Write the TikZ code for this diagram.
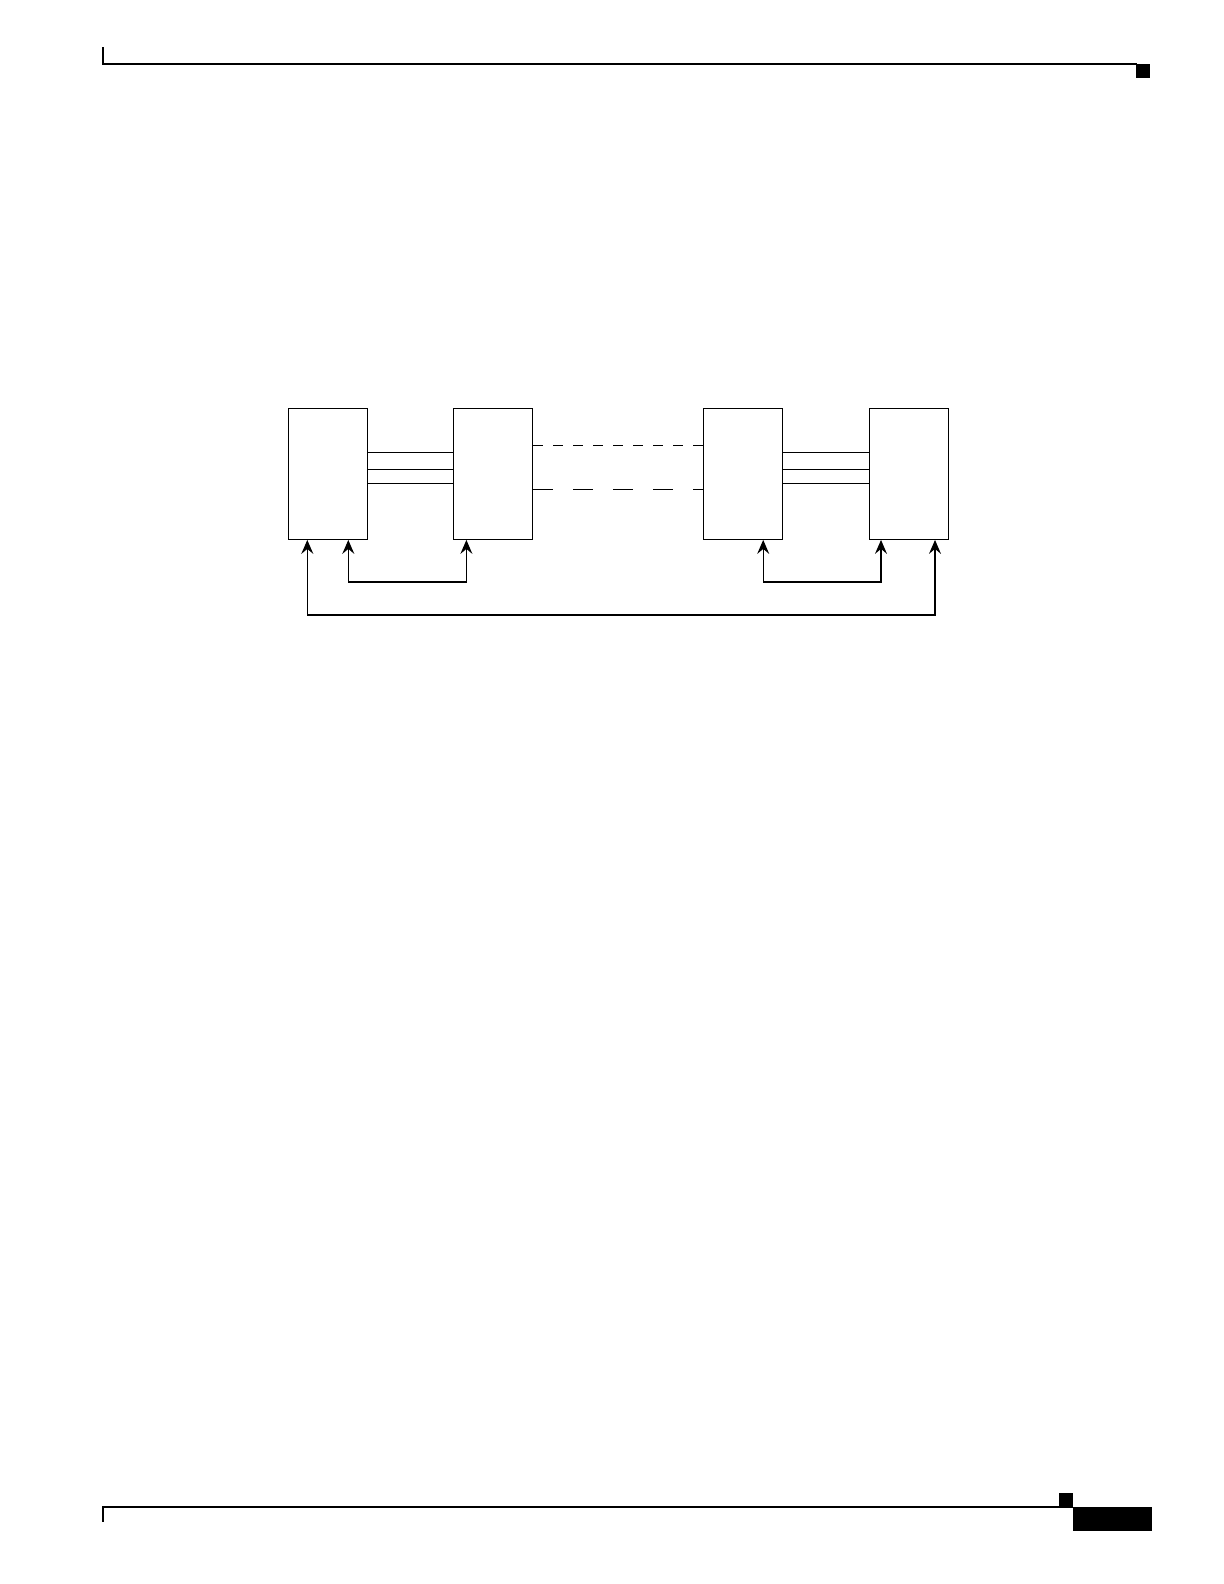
\documentclass[tikz,border=0pt]{standalone}
\usetikzlibrary{positioning,arrows.meta}

\begin{document}
\begin{tikzpicture}[x=0.5bp,y=-0.5bp,>={Stealth[length=7bp,width=6bp,inset=2.5bp]},semithick]
    \tikzstyle{blk}=[draw,rectangle,inner sep=0pt,minimum width=39.5bp,minimum height=65.5bp]
    \useasboundingbox (0,0) rectangle (1224,1584);

    % page header and footer
    \draw[line width=1pt] (102,64) -- (1137,64);
    \draw[line width=1.2pt] (103,47) -- (103,64);
    \fill (1136,64) rectangle (1150,78);
    \draw[line width=1pt] (102,1507) -- (1073,1507);
    \draw[line width=1.2pt] (103,1507) -- (103,1522);
    \fill (1059,1493) rectangle (1073,1507);
    \fill (1073,1507) rectangle (1152,1531);

    \node[blk] (A) at (327.8,473.8) {};
    \node[blk] (B) [right=42.5bp of A] {};
    \node[blk] (C) [right=85bp of B] {};
    \node[blk] (D) [right=42.8bp of C] {};

    \foreach \s in {10.75bp,2.25bp,-4.75bp} {
        \draw ([yshift=\s]A.east) -- ([yshift=\s]B.west);
        \draw ([yshift=\s]C.east) -- ([yshift=\s]D.west);
    }
    \draw[dash pattern=on 5bp off 5bp] ([yshift=14.25bp]B.east) -- ([yshift=14.25bp]C.west);
    \draw[dash pattern=on 10bp off 10bp] ([yshift=-7.75bp]B.east) -- ([yshift=-7.75bp]C.west);

    \draw[<->] ([xshift=10.25bp]A.south) -- ++(0,42) -| ([xshift=-13.3bp]B.south);
    \draw[<->] ([xshift=10bp]C.south) -- ++(0,42) -| ([xshift=-14bp]D.south);
    \draw[<->] ([xshift=-10.25bp]A.south) -- ++(0,75) -| ([xshift=13bp]D.south);
\end{tikzpicture}
\end{document}
